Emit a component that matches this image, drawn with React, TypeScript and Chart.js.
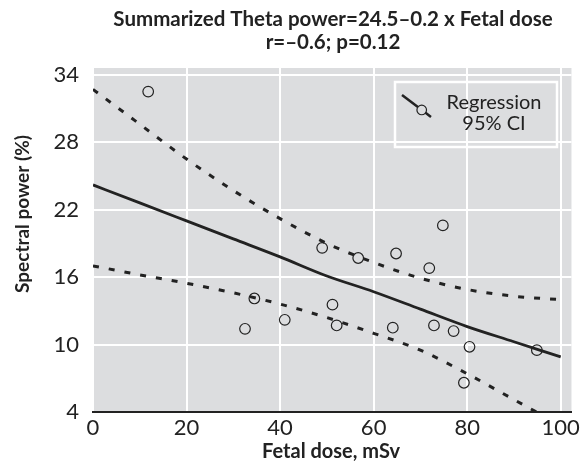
import React, { useEffect, useRef } from "react";
import { Chart, registerables } from "chart.js";

Chart.register(...registerables);

// Observed data
const doseValues = [11.8, 32.5, 34.5, 41.0, 49.0, 51.2, 52.1, 56.7, 64.1, 64.8, 71.9, 72.9, 74.8, 77.1, 79.3, 80.5, 94.9];
const powerValues = [32.5, 11.4, 14.1, 12.2, 18.6, 13.55, 11.7, 17.7, 11.5, 18.1, 16.8, 11.7, 20.6, 11.2, 6.6, 9.8, 9.5];

// Regression curve and 95% CI
const curveX = [0, 10, 20, 30, 40, 50, 60, 70, 80, 90, 100];
const regressionY = [24.2, 22.6, 21.0, 19.4, 17.8, 16.1, 14.7, 13.15, 11.6, 10.25, 8.9];
const upperCI = [32.7, 29.6, 26.5, 23.7, 21.2, 19.0, 17.3, 15.9, 14.9, 14.3, 14.0];
const lowerCI = [17.0, 16.2, 15.45, 14.6, 13.6, 12.4, 11.0, 9.5, 7.4, 5.1, 2.8];

const xTicks = [0, 20, 40, 60, 80, 100];
const yTicks = [4, 10, 16, 22, 28, 34];

const titleLines = ["Summarized Theta power=24.5\u20130.2 x Fetal dose", "r=\u20130.6; p=0.12"];
const xTitle = "Fetal dose, mSv";
const yTitle = "Spectral power (%)";
const legendLines = ["Regression", "95% CI"];

const INK = "#222222";
const PLOT_BG = "#dcdddf";
const FONT = "Lato, 'DejaVu Sans', sans-serif";

const toPts = (xs: number[], ys: number[]) => xs.map((x, i) => ({ x, y: ys[i] }));

export default function App() {
  const ref = useRef<HTMLCanvasElement | null>(null);

  useEffect(() => {
    if (!ref.current) return;

    const bgPlugin = {
      id: "plotBg",
      beforeDraw(chart: any) {
        const { ctx, chartArea: a } = chart;
        ctx.save();
        ctx.fillStyle = PLOT_BG;
        ctx.fillRect(a.left, a.top, a.right - a.left, a.bottom - a.top);
        ctx.restore();
      },
    };

    const textPlugin = {
      id: "texts",
      afterDraw(chart: any) {
        const { ctx } = chart;
        ctx.save();
        ctx.fillStyle = INK;
        ctx.textAlign = "center";
        ctx.textBaseline = "middle";
        ctx.font = `bold 20.5px ${FONT}`;
        ctx.fillText(titleLines[0], 333, 19);
        ctx.fillText(titleLines[1], 333, 42);
        // x title
        ctx.font = `bold 20px ${FONT}`;
        ctx.fillText(xTitle, 331, 452);
        // y title
        ctx.font = `bold 19px ${FONT}`;
        ctx.save();
        ctx.translate(23, 214);
        ctx.rotate(-Math.PI / 2);
        ctx.fillText(yTitle, 0, 0);
        ctx.restore();

        // legend
        const bx = 395, by = 82, bw = 162, bh = 65;
        ctx.strokeStyle = "#ffffff";
        ctx.lineWidth = 2.5;
        ctx.strokeRect(bx, by, bw, bh);
        ctx.strokeStyle = INK;
        ctx.lineWidth = 2.5;
        const x1 = 402, y1 = 95, x2 = 431, y2 = 117;
        const t = 0.68;
        const cx = x1 + (x2 - x1) * t, cy = y1 + (y2 - y1) * t;
        const r = 4.8;
        const len = Math.hypot(x2 - x1, y2 - y1);
        const ux = (x2 - x1) / len, uy = (y2 - y1) / len;
        ctx.beginPath();
        ctx.moveTo(x1, y1);
        ctx.lineTo(cx - ux * r, cy - uy * r);
        ctx.moveTo(cx + ux * r, cy + uy * r);
        ctx.lineTo(x2, y2);
        ctx.stroke();
        ctx.lineWidth = 1.2;
        ctx.beginPath();
        ctx.arc(cx, cy, r, 0, Math.PI * 2);
        ctx.stroke();
        ctx.fillStyle = INK;
        ctx.font = `20px ${FONT}`;
        ctx.fillText(legendLines[0], 494, 103);
        ctx.fillText(legendLines[1], 494, 124);
        ctx.restore();
      },
    };

    const lineDs = (label: string, ys: number[], dashed: boolean) => ({
      type: "line" as const,
      label,
      data: toPts(curveX, ys),
      borderColor: INK,
      borderWidth: dashed ? 3 : 2.8,
      borderDash: dashed ? [6, 10] : [],
      pointRadius: 0,
      fill: false,
      showLine: true,
      cubicInterpolationMode: "monotone" as const,
    });

    const chart = new Chart(ref.current, {
      type: "scatter",
      data: {
        datasets: [
          lineDs("Regression", regressionY, false),
          lineDs("Upper 95% CI", upperCI, true),
          lineDs("Lower 95% CI", lowerCI, true),
          {
            label: "Observed",
            data: toPts(doseValues, powerValues),
            pointRadius: 5.3,
            pointBorderWidth: 1.2,
            borderColor: INK,
            backgroundColor: "rgba(0,0,0,0)",
            showLine: false,
          } as any,
        ],
      },
      options: {
        responsive: false,
        animation: false,
        layout: { padding: { top: 68, right: 6, left: 0, bottom: 0 } },
        plugins: {
          legend: { display: false },
          title: { display: false },
          tooltip: { enabled: false },
        },
        scales: {
          x: {
            type: "linear",
            min: 0,
            max: 102.3,
            afterBuildTicks: (s: any) => {
              s.ticks = xTicks.map((v) => ({ value: v }));
            },
            afterFit: (s: any) => {
              s.height = 54;
            },
            grid: { color: "#ffffff", lineWidth: 2, drawTicks: false },
            border: { display: true, color: INK, width: 2 },
            ticks: {
              padding: 3,
              color: INK,
              font: { family: FONT, size: 22 },
              maxRotation: 0,
              autoSkip: false,
            },
          },
          y: {
            type: "linear",
            min: 4,
            max: 34.6,
            afterBuildTicks: (s: any) => {
              s.ticks = yTicks.map((v) => ({ value: v }));
            },
            afterFit: (s: any) => {
              s.width = 93;
            },
            grid: { color: "#ffffff", lineWidth: 2, drawTicks: false },
            border: { display: false },
            ticks: {
              padding: 14,
              color: INK,
              font: { family: FONT, size: 22 },
              autoSkip: false,
            },
          },
        },
      },
      plugins: [bgPlugin, textPlugin],
    });

    return () => chart.destroy();
  }, []);

  return (
    <div style={{ position: "absolute", left: 0, top: 0, width: 583, height: 466 }}>
      <canvas ref={ref} width={583} height={466} style={{ display: "block" }} />
    </div>
  );
}
